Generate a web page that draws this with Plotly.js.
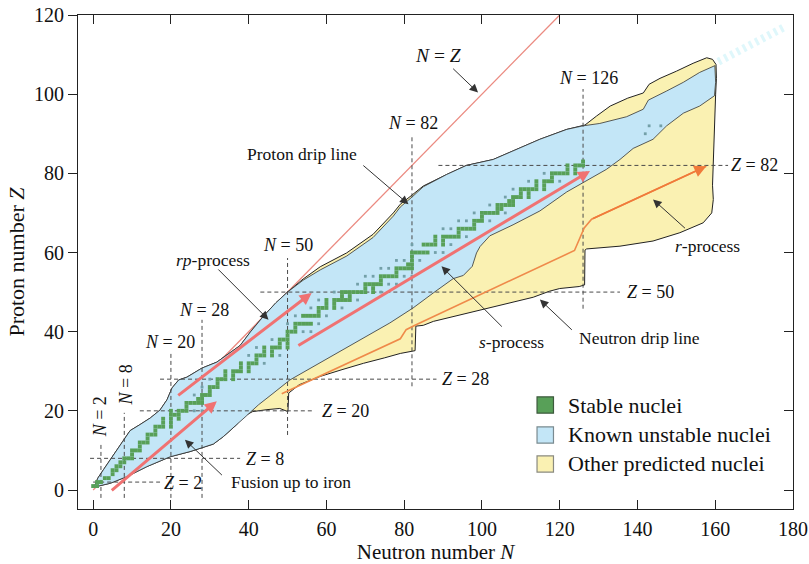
<!DOCTYPE html>
<html><head><meta charset="utf-8">
<script src="https://cdn.plot.ly/plotly-3.0.1.min.js"></script>
<style>html,body{margin:0;padding:0;background:#fff}#chart{width:809px;height:564px}</style>
</head><body><div id="chart"></div>
<script>
// ---------------- data ----------------
// Proton drip line (outer upper boundary), N and Z
var protonDripN = [0.3, 1.2, 2.7, 5, 7.8, 9.5, 12, 14.7, 17.2, 19, 20.3, 22, 24.1, 28, 31.8, 35, 37.8, 40.5, 43.8, 47, 50, 54, 58.4, 65.2, 72, 77.2, 79, 82, 84.9, 90.9, 96, 102.9, 109.8, 114.9, 121.8, 126, 126.5, 129.5, 133, 137.5, 141.5, 143, 145.8, 150, 154.3, 157.8, 159.3, 160.2];
var protonDripZ = [0.8, 3, 5.2, 8.5, 12.7, 15, 16.5, 18.2, 20.2, 22.8, 25.8, 27.8, 28.5, 30.8, 32.3, 34.5, 36.5, 40, 43.9, 47.3, 50, 53.3, 56.4, 59.9, 64.6, 70, 72.2, 74.5, 76.8, 79.7, 82, 83.5, 86.5, 88.6, 91.1, 92, 92.2, 94.5, 97, 99, 100.3, 102.5, 104, 105.8, 107.8, 109.2, 108.8, 107.5];
// right edge of predicted region
var outerRightN = [160.3, 160.1, 159.8, 159.5, 159.3, 159.5, 159.1];
var outerRightZ = [104, 100, 90, 82, 77, 73.4, 70];
// Neutron drip line (right to left)
var neutronDripN = [156.9, 150.9, 144, 135.5, 126.9, 126.5, 126.4, 125, 120, 117.3, 113.2, 104.2, 96, 92.6, 87.5, 84.9, 83, 82.8, 79, 75, 69.5, 64, 58.4, 53, 50.3, 50.1, 48, 44.7, 41, 38.5];
var neutronDripZ = [67.5, 65, 62.9, 61.6, 60.9, 60.6, 51.8, 51.4, 50.9, 50.2, 48.7, 46.6, 44.6, 43.8, 42.6, 41.6, 41.4, 35.2, 34.5, 33.4, 32, 30.4, 28.7, 26.6, 24.5, 19.8, 20.6, 20.3, 19.8, 18.5];
// Known nuclei region: upper edge (left to right) and lower edge (right to left)
var knownTopN = [0.3, 1.2, 2.7, 5, 7.8, 9.5, 12, 14.7, 17.2, 19, 20.3, 22, 24.1, 28, 31.8, 35, 37.8, 40.5, 43.8, 47, 50, 54, 58.4, 65.2, 72, 77.2, 79, 82, 84.9, 90.9, 96, 102.9, 109.8, 114.9, 121.8, 126, 130.3, 137.2, 141.5, 142.8, 147.5, 151.8, 156, 159.9, 160.1];
var knownTopZ = [0.8, 3, 5.2, 8.5, 12.7, 15, 16.5, 18.2, 20.2, 22.8, 25.8, 27.8, 28.5, 30.8, 32.3, 34.5, 36.5, 40, 43.9, 47.3, 50, 53, 55.6, 59.1, 63.8, 69.2, 71.5, 74, 76.6, 79.7, 82, 83.5, 86.5, 88.6, 91.1, 92, 92.6, 94.3, 96.2, 98.5, 100.8, 103, 105.5, 107.2, 103];
var knownBotN = [159.8, 156, 151.8, 147.5, 144, 138.9, 135.5, 132, 127, 121.8, 114.9, 108, 102, 99.5, 98.6, 97.5, 95.2, 92.6, 87.5, 82.3, 76.3, 69.5, 63.5, 56.6, 50.6, 46, 42.5, 39.5, 36.9, 33.5, 30.9, 24.9, 19.8, 13.8, 8.7, 4.4, 0.5];
var knownBotZ = [99.6, 97, 95.2, 92, 88.6, 86.3, 83.5, 81, 78.3, 75.3, 70.5, 67, 64.2, 61.5, 59.9, 56.5, 54.2, 53.4, 49.8, 46, 42.2, 38.4, 35, 31.2, 27.8, 24.2, 21.5, 18.8, 16.5, 13.5, 11.6, 9.7, 8.4, 5.9, 3.4, 1.7, 0.8];

// Stable (and primordial) nuclides: neutron numbers for Z = 1, 2, 3, ...
var stableNByZ = [
  [0,1],[1,2],[3,4],[5],[5,6],[6,7],[7,8],[8,9,10],[10],[10,11,12],
  [12],[12,13,14],[14],[14,15,16],[16],[16,17,18,20],[18,20],[18,20,22],[20,21,22],[20,22,23,24,26,28],
  [24],[24,25,26,27,28],[27,28],[26,28,29,30],[30],[28,30,31,32],[32],[30,32,33,34,36],[34,36],[34,36,37,38,40],
  [38,40],[38,40,41,42,44],[42],[40,42,43,44,46,48],[44,46],[42,44,46,47,48,50],[48,50],[46,48,49,50],[50],[50,51,52,54,56],
  [52],[50,52,53,54,55,56,58],[],[52,54,55,56,57,58,60],[58],[56,58,59,60,62,64],[60,62],[58,60,62,63,64,65,66,68],[64,66],[62,64,65,66,67,68,69,70,72,74],
  [70,72],[68,70,71,72,73,74,76,78],[74],[70,72,74,75,76,77,78,80,82],[78],[74,76,78,79,80,81,82],[81,82],[78,80,82,84],[82],[82,83,84,85,86,88,90],
  [],[82,85,86,87,88,90,92],[88,90],[88,90,91,92,93,94,96],[94],[90,92,94,95,96,97,98],[98],[94,96,98,99,100,102],[100],[98,100,101,102,103,104,106],
  [104,105],[102,104,105,106,107,108],[107,108],[106,108,109,110,112],[110,112],[108,110,111,112,113,114,116],[114,116],[112,114,116,117,118,120],[118],[116,118,119,120,121,122,124],
  [122,124],[122,124,125,126],[126],[],[],[],[],[],[],[142],
  [],[143,146]
];

// N = Z reference line
var nzLineN = [0, 120];
var nzLineZ = [0, 120];

// Magic numbers: vertical (N) and horizontal (Z) dashed lines
var magicN = [2, 8, 20, 28, 50, 82, 126];
var magicNZmin = [-2, -2, -2, -2, 13.9, 26.2, 45.8];
var magicNZmax = [12, 19.5, 34.7, 43, 58.6, 89.4, 101.3];
var magicNLabelN = [1.8, 8.2, 19.8, 28.4, 50.2, 82.3, 127.5];
var magicNLabelZ = [18.4, 26.4, 37.5, 45.6, 62, 92.8, 104.2];
var magicZ = [2, 8, 20, 28, 50, 82];
var magicZNmin = [0, -0.8, 12, 17.2, 43, 88.8];
var magicZNmax = [17.2, 37.8, 57, 88.3, 135.5, 163.3];
var magicZLabelN = [23.1, 44.2, 65, 95.8, 143.4, 170.2];
var magicZLabelZ = [1.85, 7.8, 20, 28, 50, 82];

// Process arrows (fusion, rp, s)
var procArrowTailN = [4.4, 21.5, 52.4];
var procArrowTailZ = [-0.4, 23.6, 36.3];
var procArrowHeadN = [31.8, 56.2, 127.8];
var procArrowHeadZ = [22.4, 49.8, 80.6];
// r-process path
var rProcN = [48.5, 79, 80.5, 82.5, 123.8, 126.3, 128.2, 157.7];
var rProcZ = [24.3, 38.2, 40.5, 41.5, 60.5, 66.2, 68.4, 81.8];

// Labels with pointer arrows
var labelTexts = ['<i>N</i> = <i>Z</i>', 'Proton drip line', '<i>rp</i>-process', '<i>s</i>-process', 'Neutron drip line', '<i>r</i>-process', 'Fusion up to iron'];
var labelN = [88.7, 53.6, 30.7, 107.6, 140.4, 158.1, 50.9];
var labelZ = [109.7, 84.8, 58.2, 37.5, 38.4, 61.6, 2.1];
var ptrTailN = [92.2, 69.1, 31.8, 105.5, 123.5, 152.6, 33.5];
var ptrTailZ = [106.8, 82.3, 56.1, 40.9, 40.1, 65.8, 3.4];
var ptrHeadN = [99, 81.1, 45.1, 89.6, 114.9, 144, 23.6];
var ptrHeadZ = [100.4, 72.2, 43, 56.5, 48.1, 73.4, 12.7];

// faint superheavy band beyond N = 160
var bandN = [160.8, 177.5];
var bandZ = [108.2, 116.8];

var legendLabels = ['Stable nuclei', 'Known unstable nuclei', 'Other predicted nuclei'];

var xTicks = [0, 20, 40, 60, 80, 100, 120, 140, 160, 180];
var yTicks = [0, 20, 40, 60, 80, 100, 120];

// ---------------- styles ----------------
var FONT = 'Liberation Serif, Times New Roman, serif';
var COL_GREEN = '#58a058';
var COL_DOT = '#73a0a8';
var COL_BLUE = '#c3e6f7';
var COL_YELLOW = '#faf1b2';
var COL_RED = '#f07272';
var COL_ORANGE = '#ef8a4a';
var COL_DASH = '#4a4a4a';

// ---------------- build ----------------
var lowerTailN = [], lowerTailZ = [];
knownBotN.forEach(function(n, i){ if (n <= 36.9) { lowerTailN.push(n); lowerTailZ.push(knownBotZ[i]); } });
var outerN = protonDripN.concat(outerRightN, neutronDripN, lowerTailN);
var outerZ = protonDripZ.concat(outerRightZ, neutronDripZ, lowerTailZ);
var knownN = knownTopN.concat(knownBotN);
var knownZ = knownTopZ.concat(knownBotZ);

var set = {};
stableNByZ.forEach(function(ns, i){ ns.forEach(function(n){ set[n + ',' + (i+1)] = 1; }); });
var gN = [], gZ = [], dN = [], dZ = [];
stableNByZ.forEach(function(ns, i){
  var z = i + 1;
  ns.forEach(function(n){
    var nb = set[(n+1)+','+z] || set[(n-1)+','+z] || set[n+','+(z+1)] || set[n+','+(z-1)];
    if (nb) { gN.push(n); gZ.push(z); } else { dN.push(n); dZ.push(z); }
  });
});

var mNx = [], mNy = [];
magicN.forEach(function(n, i){ mNx.push(n, n, null); mNy.push(magicNZmin[i], magicNZmax[i], null); });
var mZx = [], mZy = [];
magicZ.forEach(function(z, i){ mZx.push(magicZNmin[i], magicZNmax[i], null); mZy.push(z, z, null); });

var traces = [
  {x: nzLineN, y: nzLineZ, mode: 'lines', line: {color: '#eb8a80', width: 1.3}, hoverinfo: 'skip'},
  {x: bandN, y: bandZ, mode: 'lines', line: {color: 'rgba(175,235,246,0.4)', width: 8, dash: '3px,4px'}, hoverinfo: 'skip'},
  {x: outerN, y: outerZ, mode: 'lines', fill: 'toself', fillcolor: COL_YELLOW, line: {color: '#222', width: 1}, hoverinfo: 'skip'},
  {x: knownN, y: knownZ, mode: 'lines', fill: 'toself', fillcolor: COL_BLUE, line: {color: '#333', width: 0.8}, hoverinfo: 'skip'},
  {x: mNx, y: mNy, mode: 'lines', line: {color: COL_DASH, width: 1, dash: '4px,3px'}, hoverinfo: 'skip'},
  {x: mZx, y: mZy, mode: 'lines', line: {color: COL_DASH, width: 1, dash: '4px,3px'}, hoverinfo: 'skip'},
  {x: rProcN, y: rProcZ, mode: 'lines', line: {color: COL_ORANGE, width: 1.6}, hoverinfo: 'skip'},
  {x: dN, y: dZ, mode: 'markers', marker: {symbol: 'square', size: 2.8, color: COL_DOT}, hoverinfo: 'skip'},
  {x: gN, y: gZ, mode: 'markers', marker: {symbol: 'square', size: 3.9, color: COL_GREEN}, hoverinfo: 'skip'},
  {x: [null], y: [null], yaxis: 'y2', mode: 'markers', hoverinfo: 'skip'}
];

var ann = [];
magicN.forEach(function(n, i){
  ann.push({x: magicNLabelN[i], y: magicNLabelZ[i], xref: 'x', yref: 'y', text: '<i>N</i> = ' + n, showarrow: false,
    textangle: (n < 10 ? -90 : 0), font: {family: FONT, size: 18, color: '#111'}, xanchor: 'center', yanchor: 'middle'});
});
magicZ.forEach(function(z, i){
  ann.push({x: magicZLabelN[i], y: magicZLabelZ[i], xref: 'x', yref: 'y', text: '<i>Z</i> = ' + z, showarrow: false,
    font: {family: FONT, size: 18, color: '#111'}, xanchor: 'center', yanchor: 'middle'});
});
labelTexts.forEach(function(t, i){
  ann.push({x: labelN[i], y: labelZ[i], xref: 'x', yref: 'y', text: t, showarrow: false,
    font: {family: FONT, size: (i === 0 ? 19.5 : 17.5), color: '#111'}, xanchor: 'center', yanchor: 'middle'});
  ann.push({x: ptrHeadN[i], y: ptrHeadZ[i], ax: ptrTailN[i], ay: ptrTailZ[i], xref: 'x', yref: 'y', axref: 'x', ayref: 'y',
    text: '', showarrow: true, arrowhead: 2, arrowsize: 1.7, arrowwidth: 1, arrowcolor: '#333', standoff: 0});
});
procArrowHeadN.forEach(function(n, i){
  ann.push({x: n, y: procArrowHeadZ[i], ax: procArrowTailN[i], ay: procArrowTailZ[i], xref: 'x', yref: 'y', axref: 'x', ayref: 'y',
    text: '', showarrow: true, arrowhead: 2, arrowsize: 0.8, arrowwidth: 3, arrowcolor: COL_RED, standoff: 0});
});
var rl = rProcN.length;
ann.push({x: rProcN[rl-1], y: rProcZ[rl-1], ax: rProcN[rl-2], ay: rProcZ[rl-2], xref: 'x', yref: 'y', axref: 'x', ayref: 'y',
  text: '', showarrow: true, arrowhead: 2, arrowsize: 1.5, arrowwidth: 1.6, arrowcolor: '#f07a3a', standoff: 0});

// legend (layout items)
var legFill = [COL_GREEN, COL_BLUE, COL_YELLOW];
var legLine = ['#3d5a3d', '#7a8a90', '#8a8a80'];
var legY = [0.2105, 0.1498, 0.0911];
var shapes = [];
legendLabels.forEach(function(t, i){
  shapes.push({type: 'rect', xref: 'paper', yref: 'paper', x0: 0.642, x1: 0.665, y0: legY[i] - 0.0165, y1: legY[i] + 0.0165,
    fillcolor: legFill[i], line: {color: legLine[i], width: 1.2}});
  ann.push({x: 0.6825, y: legY[i], xref: 'paper', yref: 'paper', text: t, showarrow: false, xanchor: 'left', yanchor: 'middle',
    font: {family: FONT, size: 22, color: '#111'}});
});

var layout = {
  width: 809, height: 564,
  margin: {l: 78, r: 16, t: 15, b: 55},
  paper_bgcolor: '#fff', plot_bgcolor: '#fff',
  showlegend: false,
  font: {family: FONT, color: '#111'},
  xaxis: {range: [-3.9, 180], tickvals: xTicks, ticks: 'inside', ticklen: 9, tickwidth: 1, tickcolor: '#222',
    showline: true, linecolor: '#222', linewidth: 1, mirror: 'ticks', showgrid: false, zeroline: false,
    tickfont: {family: FONT, size: 20, color: '#111'}, ticklabelstandoff: 2,
    title: {text: 'Neutron number <i>N</i>', font: {family: FONT, size: 21, color: '#111'}, standoff: 2}},
  yaxis: {range: [-4.8, 120], tickvals: yTicks, ticks: 'outside', ticklen: 9, tickwidth: 1, tickcolor: '#222',
    showline: true, linecolor: '#222', linewidth: 1, mirror: true, showgrid: false, zeroline: false,
    tickfont: {family: FONT, size: 20, color: '#111'},
    title: {text: 'Proton number <i>Z</i>', font: {family: FONT, size: 22, color: '#111'}, standoff: 3}},
  yaxis2: {range: [-4.8, 120], overlaying: 'y', side: 'right', tickvals: yTicks, ticks: 'inside', ticklen: 9, tickwidth: 1,
    tickcolor: '#222', showticklabels: false, showgrid: false, zeroline: false, showline: false},
  annotations: ann,
  shapes: shapes
};

Plotly.newPlot('chart', traces, layout, {displayModeBar: false, staticPlot: true});
</script></body></html>
